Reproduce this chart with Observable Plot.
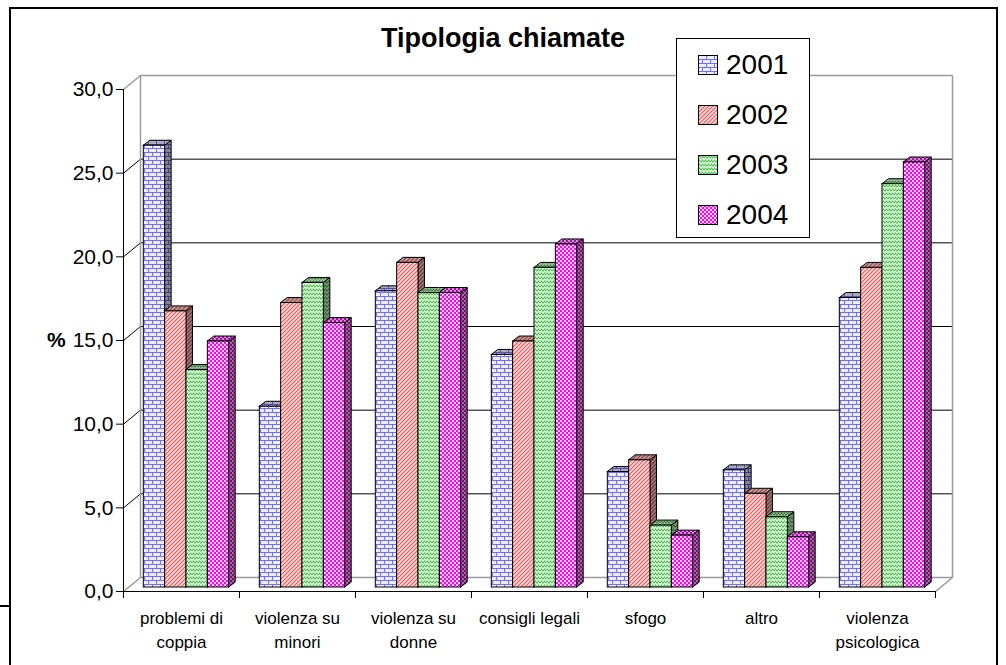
<!DOCTYPE html>
<html>
<head>
<meta charset="utf-8">
<script src="https://cdn.jsdelivr.net/npm/d3@7"></script>
<script src="https://cdn.jsdelivr.net/npm/@observablehq/plot@0.6"></script>
<style>
  html, body { margin: 0; padding: 0; background: #fff; }
  #wrap { position: relative; width: 1006px; height: 665px; overflow: hidden; font-family: Arial, "Liberation Sans", sans-serif; color: #000; }
  #frame { position: absolute; left: 9px; top: 7px; width: 989px; height: 720px; border: 2px solid #000; box-sizing: border-box; }
  #stub { position: absolute; left: 0; top: 605px; width: 10px; height: 1.5px; background: #000; }
  #chart { position: absolute; left: 0; top: 0; }
  #title { position: absolute; left: 253px; width: 500px; top: 25px; text-align: center; font-weight: bold; font-size: 27px; line-height: 27px; white-space: nowrap; }
  #pct { position: absolute; left: 47px; top: 329px; font-weight: bold; font-size: 21px; line-height: 21px; }
  #legend { position: absolute; left: 676px; top: 38px; width: 134px; height: 200px; box-sizing: border-box; border: 1px solid #000; background: #fff; padding-top: 1px; }
  .row { height: 50px; display: flex; align-items: center; }
  .row svg { margin-left: 21px; margin-right: 8px; flex: none; }
  .row span { font-size: 28px; line-height: 50px; }
</style>
</head>
<body>
<svg width="0" height="0" style="position:absolute">
  <defs>
    <pattern id="pat0" patternUnits="userSpaceOnUse" width="8" height="8">
      <rect width="8" height="8" fill="#eeeeff"/>
      <path d="M0 0.5H8M0 4.5H8M0.5 0V4.5M4.5 4.5V8" stroke="#7070ff" stroke-width="1" fill="none"/>
    </pattern>
    <pattern id="pat1" patternUnits="userSpaceOnUse" width="4" height="4">
      <rect width="4" height="4" fill="#ffeaea"/>
      <path d="M-1 5L5 -1M-1 1L1 -1M3 5L5 3" stroke="#ee6262" stroke-width="1.3" fill="none"/>
    </pattern>
    <pattern id="pat2" patternUnits="userSpaceOnUse" width="6" height="4">
      <rect width="6" height="4" fill="#f0fff0"/>
      <path d="M0 3.2L1.5 1L3 3.2L4.5 1L6 3.2" stroke="#4cc44c" stroke-width="1.1" fill="none"/>
    </pattern>
    <pattern id="pat3" patternUnits="userSpaceOnUse" width="4" height="4">
      <rect width="4" height="4" fill="#ff00ff"/>
      <rect x="0" y="0" width="2" height="2" fill="#ffd9ff"/>
      <rect x="2" y="2" width="2" height="2" fill="#ffd9ff"/>
    </pattern>
  </defs>
</svg>
<div id="wrap">
  <div id="frame"></div>
  <div id="stub"></div>
  <div id="chart"></div>
  <div id="title">Tipologia chiamate</div>
  <div id="pct">%</div>
  <div id="legend"></div>
</div>
<script>
// ---- data ----
const categories = ["problemi di\ncoppia", "violenza su\nminori", "violenza su\ndonne", "consigli legali", "sfogo", "altro", "violenza\npsicologica"];
const years = ["2001", "2002", "2003", "2004"];
const v2001 = [26.4, 10.8, 17.7, 13.9, 6.9, 7.0, 17.3];
const v2002 = [16.5, 17.0, 19.4, 14.7, 7.6, 5.6, 19.1];
const v2003 = [13.0, 18.2, 17.6, 19.1, 3.7, 4.2, 24.1];
const v2004 = [14.7, 15.8, 17.6, 20.5, 3.1, 3.0, 25.4];
const yTicks = [0, 5, 10, 15, 20, 25, 30];

// ---- geometry / style ----
const W = 1006, H = 665;
const mL = 123, mR = 71, mT = 89, mB = 74;
const nCat = categories.length, yMax = 30;
const pxPerX = (W - mL - mR) / nCat;
const pxPerY = (H - mT - mB) / yMax;
const backDX = 17 / pxPerX, backDY = 14 / pxPerY;     // back wall depth
const barOX = 5 / pxPerX, barOY = 4 / pxPerY;         // bars plane offset
const depthX = 6.5 / pxPerX, depthY = 5 / pxPerY;     // bar depth
const groupPad = 0.132, barW = 0.184;
const wallStroke = "#9a9a9a";
const fmt = d => d.toFixed(1).replace(".", ",");

const series = [v2001, v2002, v2003, v2004];
const bars = [];
categories.forEach((c, i) => years.forEach((yr, j) => {
  const v = series[j][i];
  const x1 = i + groupPad + j * barW + barOX;
  bars.push({id: i + "-" + j, j, v, x1, x2: x1 + barW, y1: barOY, y2: v + barOY});
}));

const wallLines = [
  {x1: backDX, y1: backDY, x2: backDX, y2: yMax + backDY},
  {x1: backDX, y1: yMax + backDY, x2: nCat + backDX, y2: yMax + backDY},
  {x1: nCat + backDX, y1: backDY, x2: nCat + backDX, y2: yMax + backDY},
  {x1: backDX, y1: backDY, x2: nCat + backDX, y2: backDY},
  {x1: nCat, y1: 0, x2: nCat + backDX, y2: backDY},
  {x1: 0, y1: 0, x2: backDX, y2: backDY},
  {x1: 0, y1: yMax, x2: backDX, y2: yMax + backDY}
];
const inner = yTicks.filter(v => v > 0 && v < yMax);

const marks = [
  Plot.ruleY(inner, {y: d => d + backDY, x1: () => backDX, x2: () => nCat + backDX, stroke: "#000", strokeWidth: 1}),
  Plot.link(inner, {x1: () => 0, y1: d => d, x2: () => backDX, y2: d => d + backDY, stroke: "#000", strokeWidth: 1}),
  Plot.link(wallLines, {x1: "x1", y1: "y1", x2: "x2", y2: "y2", stroke: wallStroke, strokeWidth: 1.5})
];

years.forEach((yr, j) => {
  const bj = bars.filter(b => b.j === j);
  const sides = bj.flatMap(b => [
    {id: b.id, x: b.x2, lo: b.y1, hi: b.y2},
    {id: b.id, x: b.x2 + depthX, lo: b.y1 + depthY, hi: b.y2 + depthY}
  ]);
  const tops = bj.flatMap(b => [
    {id: b.id, x: b.x1, lo: b.y2, hi: b.y2},
    {id: b.id, x: b.x1 + depthX, lo: b.y2, hi: b.y2 + depthY},
    {id: b.id, x: b.x2, lo: b.y2, hi: b.y2 + depthY},
    {id: b.id, x: b.x2 + depthX, lo: b.y2 + depthY, hi: b.y2 + depthY}
  ]);
  const fill = `url(#pat${j})`;
  marks.push(
    Plot.area(sides, {x1: "x", y1: "lo", y2: "hi", z: "id", fill, curve: "linear"}),
    Plot.area(sides, {x1: "x", y1: "lo", y2: "hi", z: "id", fill: "#000", fillOpacity: 0.45, stroke: "#000", strokeWidth: 1, curve: "linear"}),
    Plot.area(tops, {x1: "x", y1: "lo", y2: "hi", z: "id", fill, curve: "linear"}),
    Plot.area(tops, {x1: "x", y1: "lo", y2: "hi", z: "id", fill: "#000", fillOpacity: 0.28, stroke: "#000", strokeWidth: 1, curve: "linear"}),
    Plot.rect(bj, {x1: "x1", x2: "x2", y1: "y1", y2: "y2", fill, stroke: "#000", strokeWidth: 1})
  );
});

marks.push(
  Plot.ruleX([0], {y1: () => 0, y2: () => yMax, stroke: "#000", strokeWidth: 1}),
  Plot.ruleY([0], {x1: () => 0, x2: () => nCat, stroke: "#000", strokeWidth: 1}),
  Plot.ruleX(d3.range(nCat + 1), {y1: () => 0, y2: () => -7 / pxPerY, stroke: "#000", strokeWidth: 1}),
  Plot.text(categories, {x: (d, i) => i + 0.5, y: () => 0, text: d => d, lineAnchor: "top", dy: 15, fontSize: 17, lineHeight: 1.42, fill: "#000"})
);

const chart = Plot.plot({
  width: W, height: H,
  marginLeft: mL, marginRight: mR, marginTop: mT, marginBottom: mB,
  style: {fontFamily: "Arial, 'Liberation Sans', sans-serif", fontSize: "21px", color: "#000", background: "transparent", overflow: "visible"},
  x: {domain: [0, nCat], axis: null},
  y: {domain: [0, yMax], ticks: yTicks, tickSize: 7, tickPadding: 3, tickFormat: fmt, label: null},
  marks
});
document.getElementById("chart").appendChild(chart);

// legend
const legend = document.getElementById("legend");
years.forEach((yr, j) => {
  const row = document.createElement("div");
  row.className = "row";
  row.innerHTML = `<svg width="20" height="20"><rect x="0.5" y="0.5" width="19" height="19" fill="url(#pat${j})" stroke="#000" stroke-width="1"/></svg><span>${yr}</span>`;
  legend.appendChild(row);
});
</script>
</body>
</html>
